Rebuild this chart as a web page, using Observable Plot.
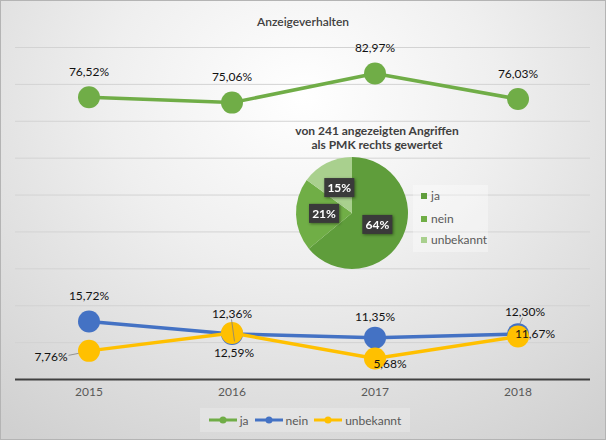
<!DOCTYPE html>
<html><head><meta charset="utf-8">
<script src="https://cdn.jsdelivr.net/npm/d3@7"></script>
<script src="https://cdn.jsdelivr.net/npm/@observablehq/plot@0.6"></script>
<style>
body{margin:0;background:#fff;}
#chart{position:relative;width:606px;height:440px;overflow:hidden;font-family:Lato,"Open Sans",sans-serif;
 background: radial-gradient(ellipse 80% 95% at 50% 22%, #ffffff 0%, #efefef 40%, #d0d0d0 100%);}
#chart svg.main{position:absolute;left:0;top:0;overflow:visible;}
#frame{position:absolute;left:0;top:0;width:604px;height:438px;border:1px solid #b4b4b4;pointer-events:none;}
#title{position:absolute;left:0;width:606px;top:14px;text-align:center;font-size:12px;font-weight:600;color:#404040;line-height:16px;}
#pietitle{position:absolute;left:277px;width:200px;top:124px;text-align:center;font-size:12px;font-weight:700;color:#404040;line-height:14px;}
#pielegend{position:absolute;left:413px;top:185px;width:75px;height:67px;background:rgba(255,255,255,0.35);font-size:12px;color:#595959;}
#pielegend div{position:absolute;left:8px;height:14px;line-height:14px;white-space:nowrap;}
#pielegend span.sw{display:inline-block;width:6px;height:6px;margin-right:4px;vertical-align:1px;}
#legend{position:absolute;left:200px;top:408px;width:210px;height:24px;background:rgba(255,255,255,0.22);font-size:12px;color:#595959;display:flex;align-items:center;justify-content:center;gap:6px;}
#legend .it{display:flex;align-items:center;gap:3px;}
</style></head>
<body>
<div id="chart">
  <div id="title"></div>
  <div id="pietitle"></div>
  <div id="pielegend"></div>
  <div id="legend"></div>
  <div id="frame"></div>
</div>
<script>
// ---- data ----
const chartTitle = "Anzeigeverhalten";
const years = ["2015", "2016", "2017", "2018"];
const seriesNames = ["ja", "nein", "unbekannt"];
const ja = [76.52, 75.06, 82.97, 76.03];
const nein = [15.72, 12.36, 11.35, 12.30];
const unbekannt = [7.76, 12.59, 5.68, 11.67];
const yTicks = [10, 20, 30, 40, 50, 60, 70, 80, 90];
const pieTitle = ["von 241 angezeigten Angriffen", "als PMK rechts gewertet"];
const pieLabels = ["ja", "nein", "unbekannt"];
const pieValues = [64, 21, 15];

// ---- styles ----
const lineColors = {ja: "#70ad47", nein: "#4472c4", unbekannt: "#ffc000"};
const pieColors = ["#5f9d3b", "#70ae46", "#a9d08e"];
const labelPlacement = {
  ja: ["top", "top", "top", "top"],
  nein: ["top", "topNear", "topNear", "topRight"],
  unbekannt: ["left", "bottom", "bottomRight", "right"]
};
const offsets = {
  top: [0, -25], topNear: [0, -20], topRight: [7, -22],
  left: [-38, 6], bottom: [2, 20], bottomRight: [15, 6], right: [17, -2]
};
// leader lines (pixel offsets relative to the point), by series and year index
const leaders = [
  {series: "unbekannt", i: 0, from: [-20, 5], to: [-10, 3]},
  {series: "nein", i: 1, from: [0, -14], to: [3, 8]},
  {series: "nein", i: 3, from: [5, -16], to: [2, -9]}
];

const valuesBySeries = {ja, nein, unbekannt};
const rows = [];
for (const s of seriesNames) {
  valuesBySeries[s].forEach((v, i) => rows.push({year: years[i], series: s, value: v, place: labelPlacement[s][i]}));
}
const fmt = v => v.toFixed(2).replace(".", ",") + "%";
const FONT = "Lato, 'Open Sans', sans-serif";

function pieMark() {
  const cx = 352, cy = 213, r = 56;
  const g = d3.create("svg:g").attr("transform", `translate(${cx},${cy})`);
  const arcs = d3.pie().sort(null)(pieValues);
  const arc = d3.arc().innerRadius(0).outerRadius(r);
  g.selectAll("path").data(arcs).join("path").attr("d", arc).attr("fill", (d, i) => pieColors[i]);
  const lab = g.selectAll("g.l").data(arcs).join("g").attr("class", "l")
    .attr("transform", d => `translate(${arc.centroid(d)})`)
    .style("filter", "drop-shadow(1px 1px 1.5px rgba(0,0,0,0.45))");
  lab.append("rect").attr("x", -15).attr("y", -10).attr("width", 30).attr("height", 19).attr("fill", "#3a3a3a");
  lab.append("text").attr("text-anchor", "middle").attr("dy", "0.35em").attr("fill", "#fff")
    .attr("font-size", 12).attr("font-weight", 700).attr("font-family", FONT)
    .text(d => d.data + "%");
  return g.node();
}

const labelMarks = Object.entries(offsets).map(([p, [dx, dy]]) =>
  Plot.text(rows.filter(d => d.place === p), {
    x: "year", y: "value", text: d => fmt(d.value), dx, dy,
    fill: "#111", fontSize: 12, fontFamily: FONT
  }));

const lineMarks = s => [
  Plot.line(rows.filter(d => d.series === s), {x: "year", y: "value", stroke: lineColors[s], strokeWidth: 3.5}),
  Plot.dot(rows.filter(d => d.series === s), {x: "year", y: "value", r: 11, fill: lineColors[s], stroke: "none"})
];

const plot = Plot.plot({
  width: 606, height: 440,
  marginLeft: 15, marginRight: 16, marginTop: 47, marginBottom: 61,
  style: {background: "transparent", fontFamily: FONT, overflow: "visible"},
  x: {type: "band", domain: years, padding: 0},
  y: {domain: [0, 90], axis: null},
  marks: [
    Plot.ruleY(yTicks, {stroke: "#d3d3d3", strokeWidth: 1}),
    Plot.ruleY([0], {stroke: "#404040", strokeWidth: 2.2}),
    Plot.axisX({tickSize: 0, tickPadding: 8, fontSize: 12, fill: "#595959", label: null}),
    ...lineMarks("ja"),
    ...lineMarks("nein"),
    ...lineMarks("unbekannt"),
    ...labelMarks,
    pieMark
  ]
});
plot.classList.add("main");
// leader lines positioned through Plot's own scales
const xs = plot.scale("x"), ys = plot.scale("y");
const svg = d3.select(plot);
for (const L of leaders) {
  const v = valuesBySeries[L.series][L.i];
  const px = xs.apply(years[L.i]) + xs.bandwidth / 2, py = ys.apply(v);
  svg.append("line")
    .attr("x1", px + L.from[0]).attr("y1", py + L.from[1])
    .attr("x2", px + L.to[0]).attr("y2", py + L.to[1])
    .attr("stroke", "#808080").attr("stroke-width", 0.8);
}
const chart = document.getElementById("chart");
chart.insertBefore(plot, document.getElementById("title"));

document.getElementById("title").textContent = chartTitle;
document.getElementById("pietitle").innerHTML = pieTitle.map(t => `<div>${t}</div>`).join("");
const pl = document.getElementById("pielegend");
const legendTops = [4, 27, 48];
pieLabels.forEach((n, i) => {
  const d = document.createElement("div");
  d.style.top = legendTops[i] + "px";
  d.innerHTML = `<span class="sw" style="background:${pieColors[i]}"></span>${n}`;
  pl.appendChild(d);
});
const lg = document.getElementById("legend");
seriesNames.forEach(s => {
  const it = document.createElement("div");
  it.className = "it";
  it.innerHTML = `<svg width="28" height="8"><line x1="0" x2="28" y1="4" y2="4" stroke="${lineColors[s]}" stroke-width="3"/><circle cx="14" cy="4" r="3.5" fill="${lineColors[s]}"/></svg><span>${s}</span>`;
  lg.appendChild(it);
});
</script>
</body></html>
